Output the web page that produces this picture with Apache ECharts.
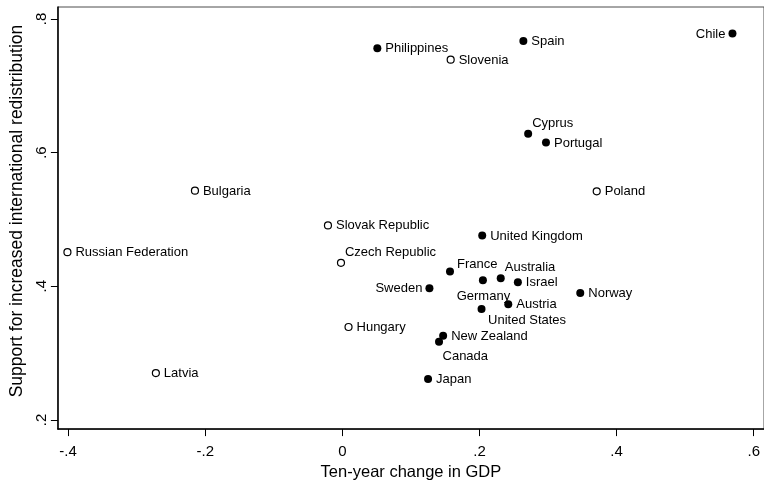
<!DOCTYPE html>
<html>
<head>
<meta charset="utf-8">
<script src="https://cdn.jsdelivr.net/npm/echarts@6/dist/echarts.min.js"></script>
<style>
  html, body { margin: 0; padding: 0; background: #ffffff; }
  #chart { width: 764px; height: 486px; }
</style>
</head>
<body>
<div id="chart"></div>
<script>
// Country-level observations
const countries = [
  'Chile', 'Philippines', 'Slovenia', 'Spain', 'Cyprus', 'Portugal', 'Poland',
  'Bulgaria', 'Slovak Republic', 'Russian Federation', 'Czech Republic',
  'United Kingdom', 'France', 'Germany', 'Australia', 'Israel', 'Sweden',
  'Norway', 'Austria', 'United States', 'Hungary', 'New Zealand', 'Canada',
  'Latvia', 'Japan'
];
const gdpChange = [
  0.569, 0.051, 0.158, 0.264, 0.271, 0.297, 0.371,
  -0.215, -0.021, -0.401, -0.002,
  0.204, 0.157, 0.205, 0.231, 0.256, 0.127,
  0.347, 0.242, 0.203, 0.009, 0.147, 0.141,
  -0.272, 0.125
];
const support = [
  0.778, 0.756, 0.739, 0.767, 0.628, 0.615, 0.542,
  0.543, 0.491, 0.451, 0.435,
  0.476, 0.422, 0.409, 0.412, 0.406, 0.397,
  0.390, 0.373, 0.366, 0.339, 0.326, 0.317,
  0.270, 0.261
];
// Post-communist countries are drawn with hollow markers
const postCommunist = [
  false, false, true, false, false, false, true,
  true, true, true, true,
  false, false, false, false, false, false,
  false, false, false, true, false, false,
  true, false
];
const xTicks = [-0.4, -0.2, 0, 0.2, 0.4, 0.6];
const yTicks = [0.2, 0.4, 0.6, 0.8];

// Label placement as clock positions (default 3 o'clock)
const labelClock = {
  'Chile': 9, 'Sweden': 9, 'Cyprus': 1, 'Czech Republic': 1, 'Australia': 1,
  'France': 2, 'Germany': 6, 'United States': 4, 'Canada': 5
};
const clockOffsets = {
  1: { align: 'left',   offset: [4, -10.5] },
  2: { align: 'left',   offset: [7, -7.5] },
  3: { align: 'left',   offset: [8, 0.5] },
  4: { align: 'left',   offset: [6.5, 11.5] },
  5: { align: 'left',   offset: [3.5, 14.5] },
  6: { align: 'center', offset: [0.5, 16] },
  9: { align: 'right',  offset: [-7, 0.5] }
};

const FONT = '"Liberation Sans", Arial, sans-serif';

function fmtTick(v) {
  if (Math.abs(v) < 1e-9) return '0';
  return v.toFixed(1).replace('0.', '.');
}

function buildPoints(hollow) {
  const pts = [];
  countries.forEach(function (name, i) {
    if (postCommunist[i] !== hollow) return;
    const pos = clockOffsets[labelClock[name] || 3];
    pts.push({
      name: name,
      value: [gdpChange[i], support[i]],
      label: { align: pos.align, offset: pos.offset }
    });
  });
  return pts;
}

const labelBase = {
  show: true,
  position: 'inside',
  formatter: '{b}',
  verticalAlign: 'middle',
  color: '#000000',
  fontFamily: FONT,
  fontSize: 13
};

const chart = echarts.init(document.getElementById('chart'), null, { renderer: 'canvas' });
chart.setOption({
  animation: false,
  backgroundColor: '#ffffff',
  grid: {
    left: 55.7, top: 7, width: 712.4, height: 426.3,
    show: true, borderColor: '#4d4d4d', borderWidth: 1, backgroundColor: 'transparent'
  },
  xAxis: {
    type: 'value',
    min: -0.4149, max: 0.615,
    name: 'Ten-year change in GDP',
    nameLocation: 'middle',
    nameGap: 31,
    nameTextStyle: { color: '#000', fontFamily: FONT, fontSize: 16.5 },
    axisLine: { show: true, onZero: false, lineStyle: { color: '#000', width: 1.5 } },
    axisTick: { show: true, length: 7, lineStyle: { color: '#000', width: 1 }, customValues: xTicks },
    axisLabel: {
      customValues: xTicks, margin: 15, color: '#000', fontFamily: FONT, fontSize: 15,
      formatter: fmtTick
    },
    splitLine: { show: false }
  },
  yAxis: {
    type: 'value',
    min: 0.1862, max: 0.8178,
    name: 'Support for increased international redistribution',
    nameLocation: 'middle',
    nameRotate: 90,
    nameGap: 22,
    nameTextStyle: { color: '#000', fontFamily: FONT, fontSize: 17.5, padding: [0, 0, 0, 14] },
    axisLine: { show: true, onZero: false, lineStyle: { color: '#000', width: 1.5 } },
    axisTick: { show: true, length: 7, lineStyle: { color: '#000', width: 1 }, customValues: yTicks },
    axisLabel: {
      customValues: yTicks, margin: 9, rotate: 90, color: '#000', fontFamily: FONT, fontSize: 15,
      formatter: fmtTick
    },
    splitLine: { show: false }
  },
  series: [
    {
      type: 'scatter',
      symbol: 'circle',
      symbolSize: 8,
      itemStyle: { color: '#000000', opacity: 1 },
      label: labelBase,
      data: buildPoints(false)
    },
    {
      type: 'scatter',
      symbol: 'circle',
      symbolSize: 7,
      itemStyle: { color: '#ffffff', borderColor: '#000000', borderWidth: 1.2, opacity: 1 },
      label: labelBase,
      data: buildPoints(true)
    }
  ]
});
</script>
</body>
</html>
